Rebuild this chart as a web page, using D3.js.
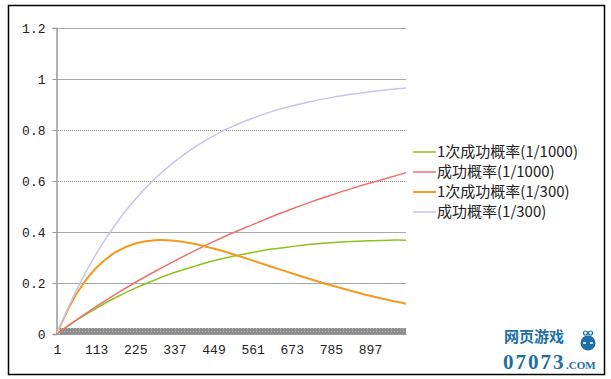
<!DOCTYPE html>
<html><head><meta charset="utf-8">
<script src="https://cdn.jsdelivr.net/npm/d3@7/dist/d3.min.js"></script>
<style>
html,body{margin:0;padding:0;background:#fff;}
svg{display:block;}
</style></head>
<body>
<svg id="chart" width="611" height="379"></svg>
<script>
// ---- data ----
const xValues = [1,57,113,169,225,281,337,393,449,505,561,617,673,729,785,841,897,953,1000];
const greenOnce1000 = [0.001,0.054,0.101,0.143,0.180,0.212,0.241,0.265,0.287,0.305,0.320,0.333,0.343,0.352,0.358,0.363,0.366,0.368,0.368];
const redSuccess1000 = [0.001,0.055,0.107,0.156,0.202,0.245,0.286,0.325,0.362,0.397,0.429,0.461,0.490,0.518,0.544,0.569,0.592,0.614,0.632];
const orangeOnce300 = [0.003,0.158,0.259,0.321,0.355,0.368,0.366,0.354,0.335,0.313,0.288,0.263,0.238,0.214,0.191,0.170,0.150,0.132,0.119];
const lavSuccess300 = [0.003,0.173,0.314,0.431,0.528,0.609,0.675,0.731,0.777,0.815,0.846,0.873,0.894,0.912,0.927,0.940,0.950,0.959,0.965];
const seriesNames = ["1次成功概率(1/1000)","成功概率(1/1000)","1次成功概率(1/300)","成功概率(1/300)"];
const seriesColors = ["#8cc21e","#ee7070","#f59a1c","#c4c4ee"];
const yTicks = [0,0.2,0.4,0.6,0.8,1,1.2];
const yTickLabels = ["0","0.2","0.4","0.6","0.8","1","1.2"];
const xTickValues = [1,113,225,337,449,561,673,785,897];

const seriesData = [greenOnce1000, redSuccess1000, orangeOnce300, lavSuccess300];

const svg = d3.select("#chart");
const monoFont = "'Liberation Mono','DejaVu Sans Mono',monospace";
const cjkFont = "'Noto Sans CJK SC','Noto Sans',sans-serif";

// outer frame
svg.append("rect").attr("x",8.5).attr("y",5.5).attr("width",596).attr("height",369)
  .attr("fill","#fff").attr("stroke","#000").attr("stroke-width",1.5);

const x = d3.scaleLinear().domain([1,1000]).range([57,406]);
const y = d3.scaleLinear().domain([0,1.2]).range([334,28]);

// floor band
svg.append("defs").append("pattern").attr("id","dots").attr("width",3).attr("height",3)
  .attr("patternUnits","userSpaceOnUse")
  .call(p=>{p.append("rect").attr("width",3).attr("height",3).attr("fill","#8e8e8e");
            p.append("rect").attr("x",1).attr("y",1).attr("width",1).attr("height",1).attr("fill","#b4b4b4");});
svg.append("rect").attr("x",60).attr("y",y(0)-6).attr("width",346).attr("height",6).attr("fill","url(#dots)");

// gridlines
const grid = svg.append("g");
yTicks.filter(d=>d>0).forEach(d=>{
  const dotted = (d===0.8||d===0.6);
  grid.append("line").attr("x1",56).attr("x2",406)
    .attr("y1",Math.round(y(d))+0.5).attr("y2",Math.round(y(d))+0.5)
    .attr("stroke", dotted ? "#888" : "#a8a8a8").attr("stroke-width",1)
    .attr("stroke-dasharray", dotted ? "1,1" : null);
});

// y axis
const yAxis = d3.axisLeft(y).tickValues(yTicks).tickSize(4).tickPadding(7)
  .tickFormat((d,i)=>yTickLabels[i]);
const gy = svg.append("g").attr("transform","translate(56.5,0)").call(yAxis);
gy.select(".domain").attr("stroke","#999").attr("stroke-width",1.5);
gy.selectAll(".tick line").attr("stroke","#999");
gy.selectAll("text").attr("font-family",monoFont).attr("font-size",13).attr("fill","#222");

// x axis labels
const xAxis = d3.axisBottom(x).tickValues(xTickValues).tickSize(0).tickPadding(11).tickFormat(d=>d);
const gx = svg.append("g").attr("transform",`translate(0,${y(0)})`).call(xAxis);
gx.select(".domain").attr("stroke","#999").attr("stroke-width",1);
gx.selectAll("text").attr("font-family",monoFont).attr("font-size",13).attr("fill","#222");

// lines
const line = d3.line().x((d,i)=>x(xValues[i])).y(d=>y(d)).curve(d3.curveCatmullRom.alpha(0.5));
const widths = [1.5,1.5,2,1.5];
seriesData.forEach((s,k)=>{
  svg.append("path").datum(s).attr("d",line).attr("fill","none")
    .attr("stroke",seriesColors[k]).attr("stroke-width",widths[k]);
});

// legend
const lg = svg.append("g");
seriesNames.forEach((n,k)=>{
  const yy = 152 + k*20;
  lg.append("line").attr("x1",413).attr("x2",436).attr("y1",yy).attr("y2",yy)
    .attr("stroke",seriesColors[k]).attr("stroke-width",widths[k]);
  lg.append("text").attr("x",437).attr("y",yy).attr("dy","0.35em")
    .attr("font-family",cjkFont).attr("font-size",15).attr("fill","#222").text(n);
});

// watermark
const wm = svg.append("g");
wm.append("text").attr("x",504).attr("y",342).attr("font-family",cjkFont).attr("font-weight","bold")
  .attr("font-size",15).attr("fill","#1b6fa5").text("网页游戏");
wm.append("text").attr("x",503).attr("y",369).attr("font-family","'Liberation Serif',serif").attr("font-weight","bold")
  .attr("font-size",21).attr("letter-spacing","2").attr("fill","#1b6fa5").text("07073");
wm.append("text").attr("x",566).attr("y",369).attr("font-family","'Liberation Serif',serif").attr("font-weight","bold")
  .attr("font-size",11).attr("fill","#1b6fa5").text(".COM");
wm.append("circle").attr("cx",588).attr("cy",343).attr("r",7.5).attr("fill","#1b6fa5");
wm.append("circle").attr("cx",585.5).attr("cy",333).attr("r",2).attr("fill","none").attr("stroke","#1b6fa5").attr("stroke-width",1.2);
wm.append("circle").attr("cx",590.5).attr("cy",333).attr("r",2).attr("fill","none").attr("stroke","#1b6fa5").attr("stroke-width",1.2);
wm.append("line").attr("x1",583).attr("x2",586).attr("y1",343).attr("y2",343).attr("stroke","#fff").attr("stroke-width",1.5);
wm.append("line").attr("x1",590).attr("x2",593).attr("y1",343).attr("y2",343).attr("stroke","#fff").attr("stroke-width",1.5);
</script>
</body></html>
